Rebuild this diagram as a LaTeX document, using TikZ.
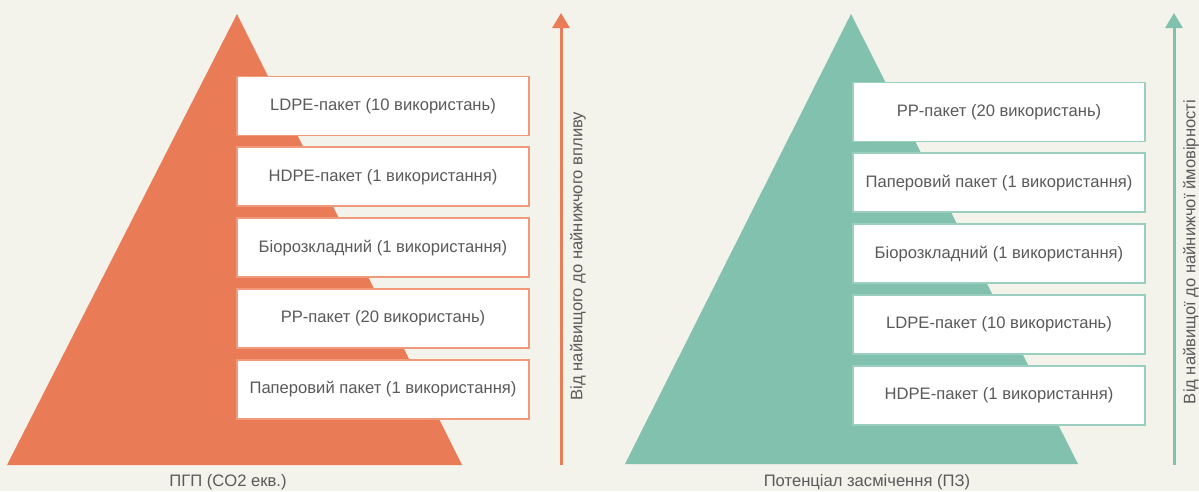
\documentclass[tikz,border=0pt]{standalone}
\usepackage{fontspec}
\setmainfont{Liberation Sans}
\usepackage{xcolor}
\usetikzlibrary{arrows.meta,positioning}
\definecolor{GwpOrange}{HTML}{E97C57}
\definecolor{GwpEdge}{HTML}{F09A7B}
\definecolor{LitterTeal}{HTML}{82C1AE}
\definecolor{LitterEdge}{HTML}{9ACFBF}
\definecolor{PaperBg}{HTML}{F3F2EB}
\definecolor{LabelGrey}{HTML}{5A5A5A}

\begin{document}
\begin{tikzpicture}[x=1pt,y=-1pt,node distance=10pt,>={Triangle[length=15pt,width=17pt]},
  font=\fontsize{16.6}{19}\selectfont,text=LabelGrey]
\tikzset{tier/.style={draw=GwpEdge,line width=1.8pt,fill=white,minimum width=292pt,minimum height=59pt,inner sep=0pt,align=center},
         tierb/.style={tier,draw=LitterEdge},
         axislabel/.style={rotate=90,anchor=center}}
\fill[PaperBg] (0,0) rectangle (1199,491);
\useasboundingbox (0,0) rectangle (1199,491);
% left pyramid: GWP
\fill[GwpOrange] (7,465) -- (237,14) -- (462,465) -- cycle;
\node[tier] (l1) at (383,106) {LDPE-пакет (10 використань)};
\node[tier,below=of l1] (l2) {HDPE-пакет (1 використання)};
\node[tier,below=of l2] (l3) {Біорозкладний (1 використання)};
\node[tier,below=of l3] (l4) {PP-пакет (20 використань)};
\node[tier,below=of l4] (l5) {Паперовий пакет (1 використання)};
\coordinate (lbot) at (561,465);
\coordinate (ltop) at (561,13);
\draw[->,GwpOrange,line width=3pt] (lbot) -- (ltop);
\node[axislabel] (laxis) at (578,256) {Від найвищого до найнижчого впливу};
\node (lname) at (228,482) {ПГП (CO2 екв.)};
% right pyramid: litter potential
\fill[LitterTeal] (625,464) -- (851,14) -- (1078,464) -- cycle;
\node[tierb] (r1) at (999,112) {PP-пакет (20 використань)};
\node[tierb,below=of r1] (r2) {Паперовий пакет (1 використання)};
\node[tierb,below=of r2] (r3) {Біорозкладний (1 використання)};
\node[tierb,below=of r3] (r4) {LDPE-пакет (10 використань)};
\node[tierb,below=of r4] (r5) {HDPE-пакет (1 використання)};
\coordinate (rbot) at (1174,465);
\coordinate (rtop) at (1174,13);
\draw[->,LitterTeal,line width=3pt] (rbot) -- (rtop);
\node[axislabel] (raxis) at (1191,252) {Від найвищої до найнижчої ймовірності};
\node (rname) at (867,482) {Потенціал засмічення (ПЗ)};
\end{tikzpicture}
\end{document}
